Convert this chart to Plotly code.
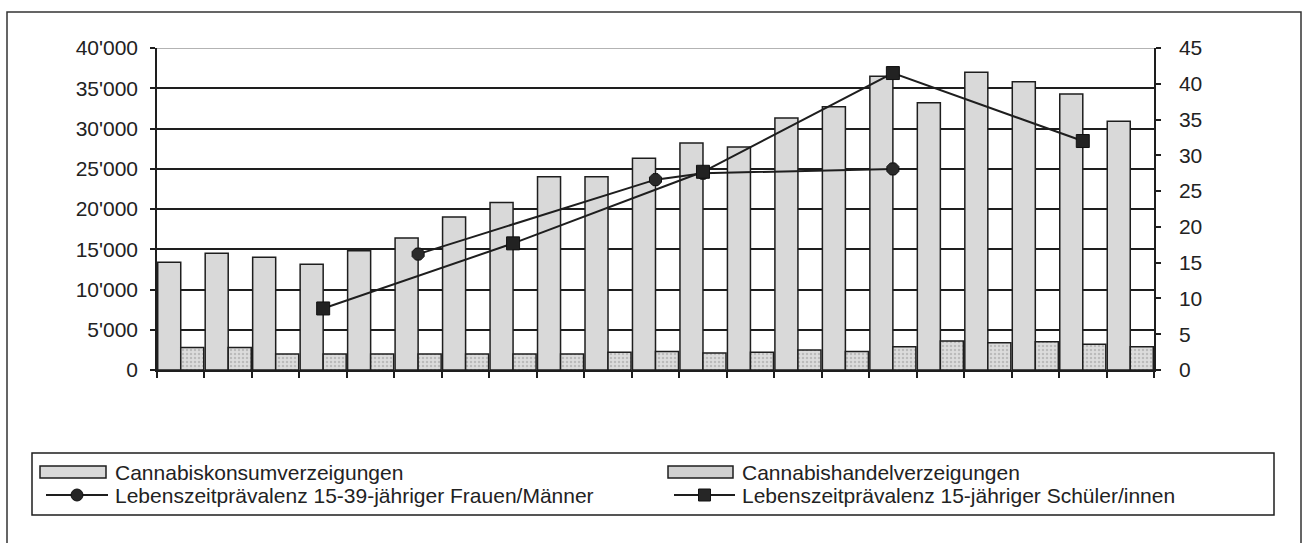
import plotly.graph_objects as go

# ---- data ----
categories = list(range(1, 22))  # 21 unlabeled yearly categories
konsum = [13400, 14500, 14000, 13150, 14800, 16400, 19000, 20800, 24000, 24000,
          26300, 28200, 27700, 31300, 32700, 36500, 33200, 37000, 35800, 34300, 30900]
handel = [2800, 2800, 2000, 2000, 2000, 2000, 2000, 2000, 2000, 2200,
          2300, 2100, 2200, 2500, 2300, 2900, 3600, 3400, 3500, 3200, 2900]
praev_erwachsene = [None, None, None, None, None, 16.2, None, None, None, None,
                    26.6, 27.5, None, None, None, 28.1, None, None, None, None, None]
praev_schueler = [None, None, None, 8.6, None, None, None, 17.7, None, None,
                  None, 27.7, None, None, None, 41.5, None, None, None, 32.0, None]

names = ["Cannabiskonsumverzeigungen", "Cannabishandelverzeigungen",
         "Lebenszeitprävalenz 15-39-jähriger Frauen/Männer",
         "Lebenszeitprävalenz 15-jähriger Schüler/innen"]

FONT = "Liberation Sans, Arial, sans-serif"
INK = "#1e1e1e"
KONSUM_FILL = "#d9d9d9"
HANDEL_FILL = "#d0d0d0"

W, H = 1304, 543
L, R, T, B = 157, 1154, 48, 370  # plot area in pixels


def px(x):
    return (x - L) / (R - L)


def py(y):
    return (B - y) / (B - T)


fig = go.Figure()
fig.add_trace(go.Bar(x=categories, y=konsum, name=names[0], showlegend=False,
                     marker=dict(color=KONSUM_FILL, line=dict(color=INK, width=1.5))))
fig.add_trace(go.Bar(x=categories, y=handel, name=names[1], showlegend=False,
                     marker=dict(color=HANDEL_FILL, line=dict(color=INK, width=1.5),
                                 pattern=dict(shape=".", fgcolor="#9a9a9a", bgcolor="#dcdcdc",
                                              size=4, solidity=0.3))))
fig.add_trace(go.Scatter(x=categories, y=praev_erwachsene, name=names[2], yaxis="y2",
                         mode="lines+markers", connectgaps=True, showlegend=False,
                         line=dict(color=INK, width=2),
                         marker=dict(symbol="octagon", size=13, color="#2a2a2a",
                                     line=dict(color="#111", width=1))))
fig.add_trace(go.Scatter(x=categories, y=praev_schueler, name=names[3], yaxis="y2",
                         mode="lines+markers", connectgaps=True, showlegend=False,
                         line=dict(color=INK, width=2),
                         marker=dict(symbol="square", size=13, color="#222",
                                     line=dict(color="#111", width=1))))

# ---- legend drawn as shapes + text (wide bar swatches as in the original) ----
legend_cols = [(40, 106, 113), (668, 733, 740)]  # swatch x0, swatch x1, text x
row_y = [472, 495]
shapes = []
annotations = []
entries = [(0, 0, "bar", KONSUM_FILL), (1, 0, "bar", HANDEL_FILL),
           (0, 1, "circle", None), (1, 1, "square", None)]
for idx, (col, row, kind, fill) in enumerate(entries):
    sx0, sx1, tx = legend_cols[col]
    yc = row_y[row]
    if kind == "bar":
        shapes.append(dict(type="rect", xref="paper", yref="paper",
                           x0=px(sx0), x1=px(sx1), y0=py(yc + 6), y1=py(yc - 6),
                           fillcolor=fill, line=dict(color=INK, width=1.5)))
    else:
        shapes.append(dict(type="line", xref="paper", yref="paper",
                           x0=px(sx0 + 6), x1=px(sx1 + 2), y0=py(yc), y1=py(yc),
                           line=dict(color=INK, width=2)))
        mx = (sx0 + 6 + sx1 + 2) / 2
        shapes.append(dict(type=kind if kind == "circle" else "rect",
                           xref="paper", yref="paper",
                           x0=px(mx - 6), x1=px(mx + 6), y0=py(yc + 6), y1=py(yc - 6),
                           fillcolor="#262626", line=dict(color="#111", width=1)))
    annotations.append(dict(xref="paper", yref="paper", x=px(tx), y=py(yc),
                            xanchor="left", yanchor="middle", showarrow=False,
                            text=names[idx], font=dict(size=21, family=FONT, color="#222")))

shapes += [
    # top gridline in gray
    dict(type="line", xref="paper", yref="y", x0=0, x1=1, y0=40000, y1=40000,
         line=dict(color="#9a9a9a", width=1.5), layer="above"),
    # legend frame
    dict(type="rect", xref="paper", yref="paper", x0=px(32), x1=px(1274),
         y0=py(515), y1=py(453), line=dict(color=INK, width=1.5)),
    # outer frame
    dict(type="rect", xref="paper", yref="paper", x0=px(7), x1=px(1301),
         y0=py(548), y1=py(12), line=dict(color="#333", width=1.5)),
]

fig.update_layout(
    width=W, height=H,
    margin=dict(l=L, r=W - R, t=T, b=H - B, pad=0),
    paper_bgcolor="white", plot_bgcolor="white",
    font=dict(family=FONT, size=21, color="#222"),
    separators=".'",
    barmode="group", bargap=0.03, bargroupgap=0,
    showlegend=False,
    xaxis=dict(range=[0.5, 21.5], tickvals=[c + 0.5 for c in [0] + categories],
               showticklabels=False, ticks="outside", ticklen=6, tickwidth=1.5,
               tickcolor=INK, showgrid=False, zeroline=False,
               showline=True, linecolor=INK, linewidth=1.5),
    yaxis=dict(range=[0, 40000], dtick=5000, tickformat=",d", ticks="outside",
               ticklen=5, tickwidth=1.5, tickcolor=INK, showline=True,
               linecolor=INK, linewidth=1.5, showgrid=True, gridcolor=INK,
               gridwidth=1.5, zeroline=False, ticklabelstandoff=8),
    yaxis2=dict(range=[0, 45], dtick=5, overlaying="y", side="right",
                ticks="outside", ticklen=5, tickwidth=1.5, tickcolor=INK,
                showline=True, linecolor=INK, linewidth=1.5, showgrid=False,
                zeroline=False, ticklabelstandoff=14),
    shapes=shapes,
    annotations=annotations,
)

fig.write_html("out.html",
               config={"displayModeBar": False},
               post_script="document.body.style.margin='0';"
                           "document.body.style.overflow='hidden';")
